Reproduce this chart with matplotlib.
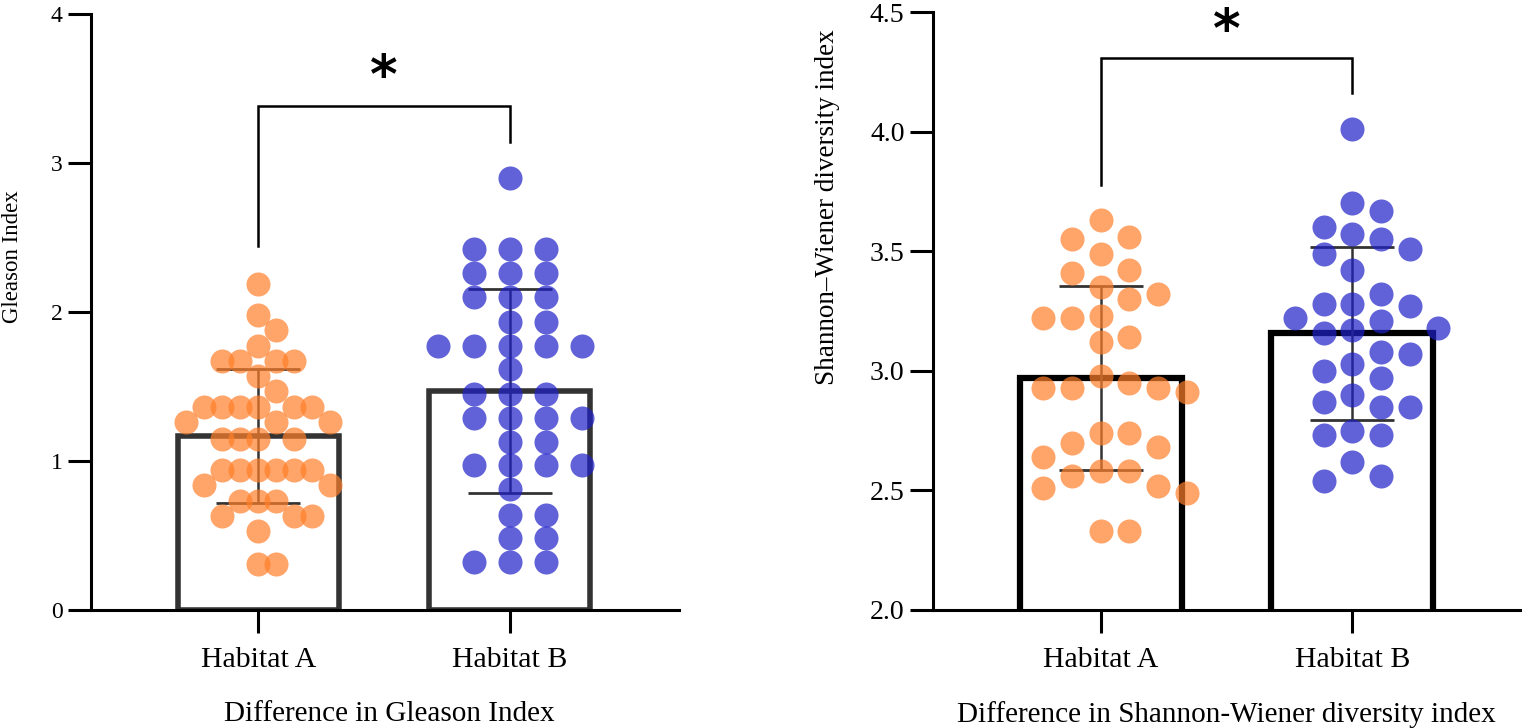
import numpy as np
import matplotlib
matplotlib.use('Agg')
import matplotlib.pyplot as plt

plt.rcParams['font.family'] = ['Liberation Serif', 'DejaVu Serif']

groups = ['Habitat A', 'Habitat B']

# values
gleason_a = [2.19, 1.98, 1.88, 1.77, 1.67, 1.67, 1.67, 1.67, 1.57, 1.47,
             1.36, 1.36, 1.36, 1.36, 1.36, 1.36, 1.26, 1.26, 1.26,
             1.15, 1.15, 1.15, 1.15, 0.94, 0.94, 0.94, 0.94, 0.94, 0.94,
             0.84, 0.84, 0.73, 0.73, 0.73, 0.63, 0.63, 0.63, 0.53, 0.31, 0.31]
gleason_b = [2.90, 2.42, 2.42, 2.42, 2.26, 2.26, 2.26, 2.10, 2.10, 2.10,
             1.93, 1.93, 1.77, 1.77, 1.77, 1.77, 1.77, 1.62,
             1.45, 1.45, 1.45, 1.29, 1.29, 1.29, 1.29, 1.13, 1.13,
             0.97, 0.97, 0.97, 0.97, 0.81, 0.64, 0.64, 0.48, 0.48,
             0.32, 0.32, 0.32]
shannon_a = [3.63, 3.56, 3.55, 3.49, 3.42, 3.41, 3.35, 3.32, 3.30, 3.23,
             3.22, 3.22, 3.14, 3.12, 2.98, 2.95, 2.93, 2.93, 2.93, 2.91,
             2.74, 2.74, 2.70, 2.68, 2.64, 2.58, 2.58, 2.56, 2.52, 2.51,
             2.49, 2.33, 2.33]
shannon_b = [4.01, 3.70, 3.67, 3.60, 3.57, 3.55, 3.51, 3.49, 3.42, 3.32,
             3.28, 3.28, 3.27, 3.22, 3.21, 3.18, 3.17, 3.16, 3.08, 3.07,
             3.03, 3.00, 2.97, 2.90, 2.87, 2.85, 2.85, 2.75, 2.73, 2.73,
             2.62, 2.56, 2.54]

# significance brackets: (top, left leg end, right leg end, star y)
sig_gleason = (3.38, 2.44, 3.14, 3.57)
sig_shannon = (4.306, 3.777, 4.160, 4.415)

orange = '#FF7F2A'
blue = '#2020C8'


def swarm(ax, xc, vals, grid, step, diam):
    # simple column swarm in pixel space
    vals = np.asarray(vals, float)
    x0, y0 = ax.transData.transform((0, 0))
    x1, y1 = ax.transData.transform((1, 1))
    sx, sy = x1 - x0, y1 - y0
    order = np.argsort(-vals, kind='stable')
    placed = []
    offs = np.zeros(len(vals))
    cand = [0]
    for k in range(1, 30):
        cand += [k * step, -k * step]
    for i in order:
        py = vals[i] * sy
        for c in cand:
            ok = True
            for (qx, qy) in placed:
                if abs(qx - c) < grid - 0.01 and abs(qy - py) < diam:
                    ok = False
                    break
            if ok:
                break
        placed.append((c, py))
        offs[i] = c / sx
    return xc + offs


def panel(ax, data, ylim, yticks, ylabel, xlabel, bar_col, bar_lw, sig,
          swarm_par, fs_ytick, fs_ylab, ylab_xy, xlab_x):
    ax.set_xlim(-0.667, 1.675)
    ax.set_ylim(*ylim)
    pos = np.arange(len(groups))
    means = [np.mean(d) for d in data]
    sds = [np.std(d, ddof=1) for d in data]
    ax.bar(pos, means, width=0.645, facecolor='none', edgecolor=bar_col,
           linewidth=bar_lw, zorder=1)
    ax.errorbar(pos, means, yerr=sds, fmt='none', ecolor='#333333',
                elinewidth=1.8, capsize=30, capthick=2.0, zorder=2)
    for p, d, col, sp in zip(pos, data, [orange, blue], swarm_par):
        xs = swarm(ax, p, d, *sp)
        ax.scatter(xs, d, s=300, color=col, alpha=0.7, linewidths=0,
                   zorder=3, clip_on=False)
    top, l_end, r_end, star_y = sig
    ax.plot([0, 0, 1, 1], [l_end, top, top, r_end], color='black',
            linewidth=1.8, solid_joinstyle='miter', clip_on=False)
    ax.text(0.5, star_y, '*', ha='center', va='center', fontsize=38,
            fontweight='bold', family='DejaVu Sans', clip_on=False)

    for s in ['top', 'right']:
        ax.spines[s].set_visible(False)
    for s in ['left', 'bottom']:
        ax.spines[s].set_linewidth(2.2)
    ax.set_yticks(yticks)
    ax.set_xticks(pos)
    ax.set_xticklabels(groups)
    ax.tick_params(axis='y', length=16.5, width=2.2, labelsize=fs_ytick,
                   pad=4)
    ax.tick_params(axis='x', length=16.5, width=2.2, labelsize=21.5, pad=10)
    ax.set_ylabel(ylabel, fontsize=fs_ylab)
    ax.yaxis.set_label_coords(*ylab_xy)
    ax.set_xlabel(xlabel, fontsize=21)
    ax.xaxis.set_label_coords(xlab_x, -0.187)
    ax.xaxis.label.set_verticalalignment('baseline')


fig = plt.figure(figsize=(15.22, 7.28), dpi=100)
ax1 = fig.add_axes([0.0598, 0.1621, 0.3863, 0.8187])
ax2 = fig.add_axes([0.6130, 0.1621, 0.3870, 0.8214])

panel(ax1, [gleason_a, gleason_b], (0, 4), [0, 1, 2, 3, 4],
      'Gleason Index', 'Difference in Gleason Index', '#333333', 4.0,
      sig_gleason, [(18, 18, 24), (36, 18, 22)], 17, 16.5,
      (-0.116, 0.593), 0.508)
panel(ax2, [shannon_a, shannon_b], (2.0, 4.5),
      [2.0, 2.5, 3.0, 3.5, 4.0, 4.5],
      'Shannon\u2013Wiener diversity index',
      'Difference in Shannon-Wiener diversity index', 'black', 4.5,
      sig_shannon, [(28.7, 14.35, 24), (28.7, 14.35, 24)], 20, 19.5,
      (-0.158, 0.674), 0.4975)
ax2.yaxis.set_major_formatter(matplotlib.ticker.FormatStrFormatter('%.1f'))

fig.savefig('out.png', dpi=100)
